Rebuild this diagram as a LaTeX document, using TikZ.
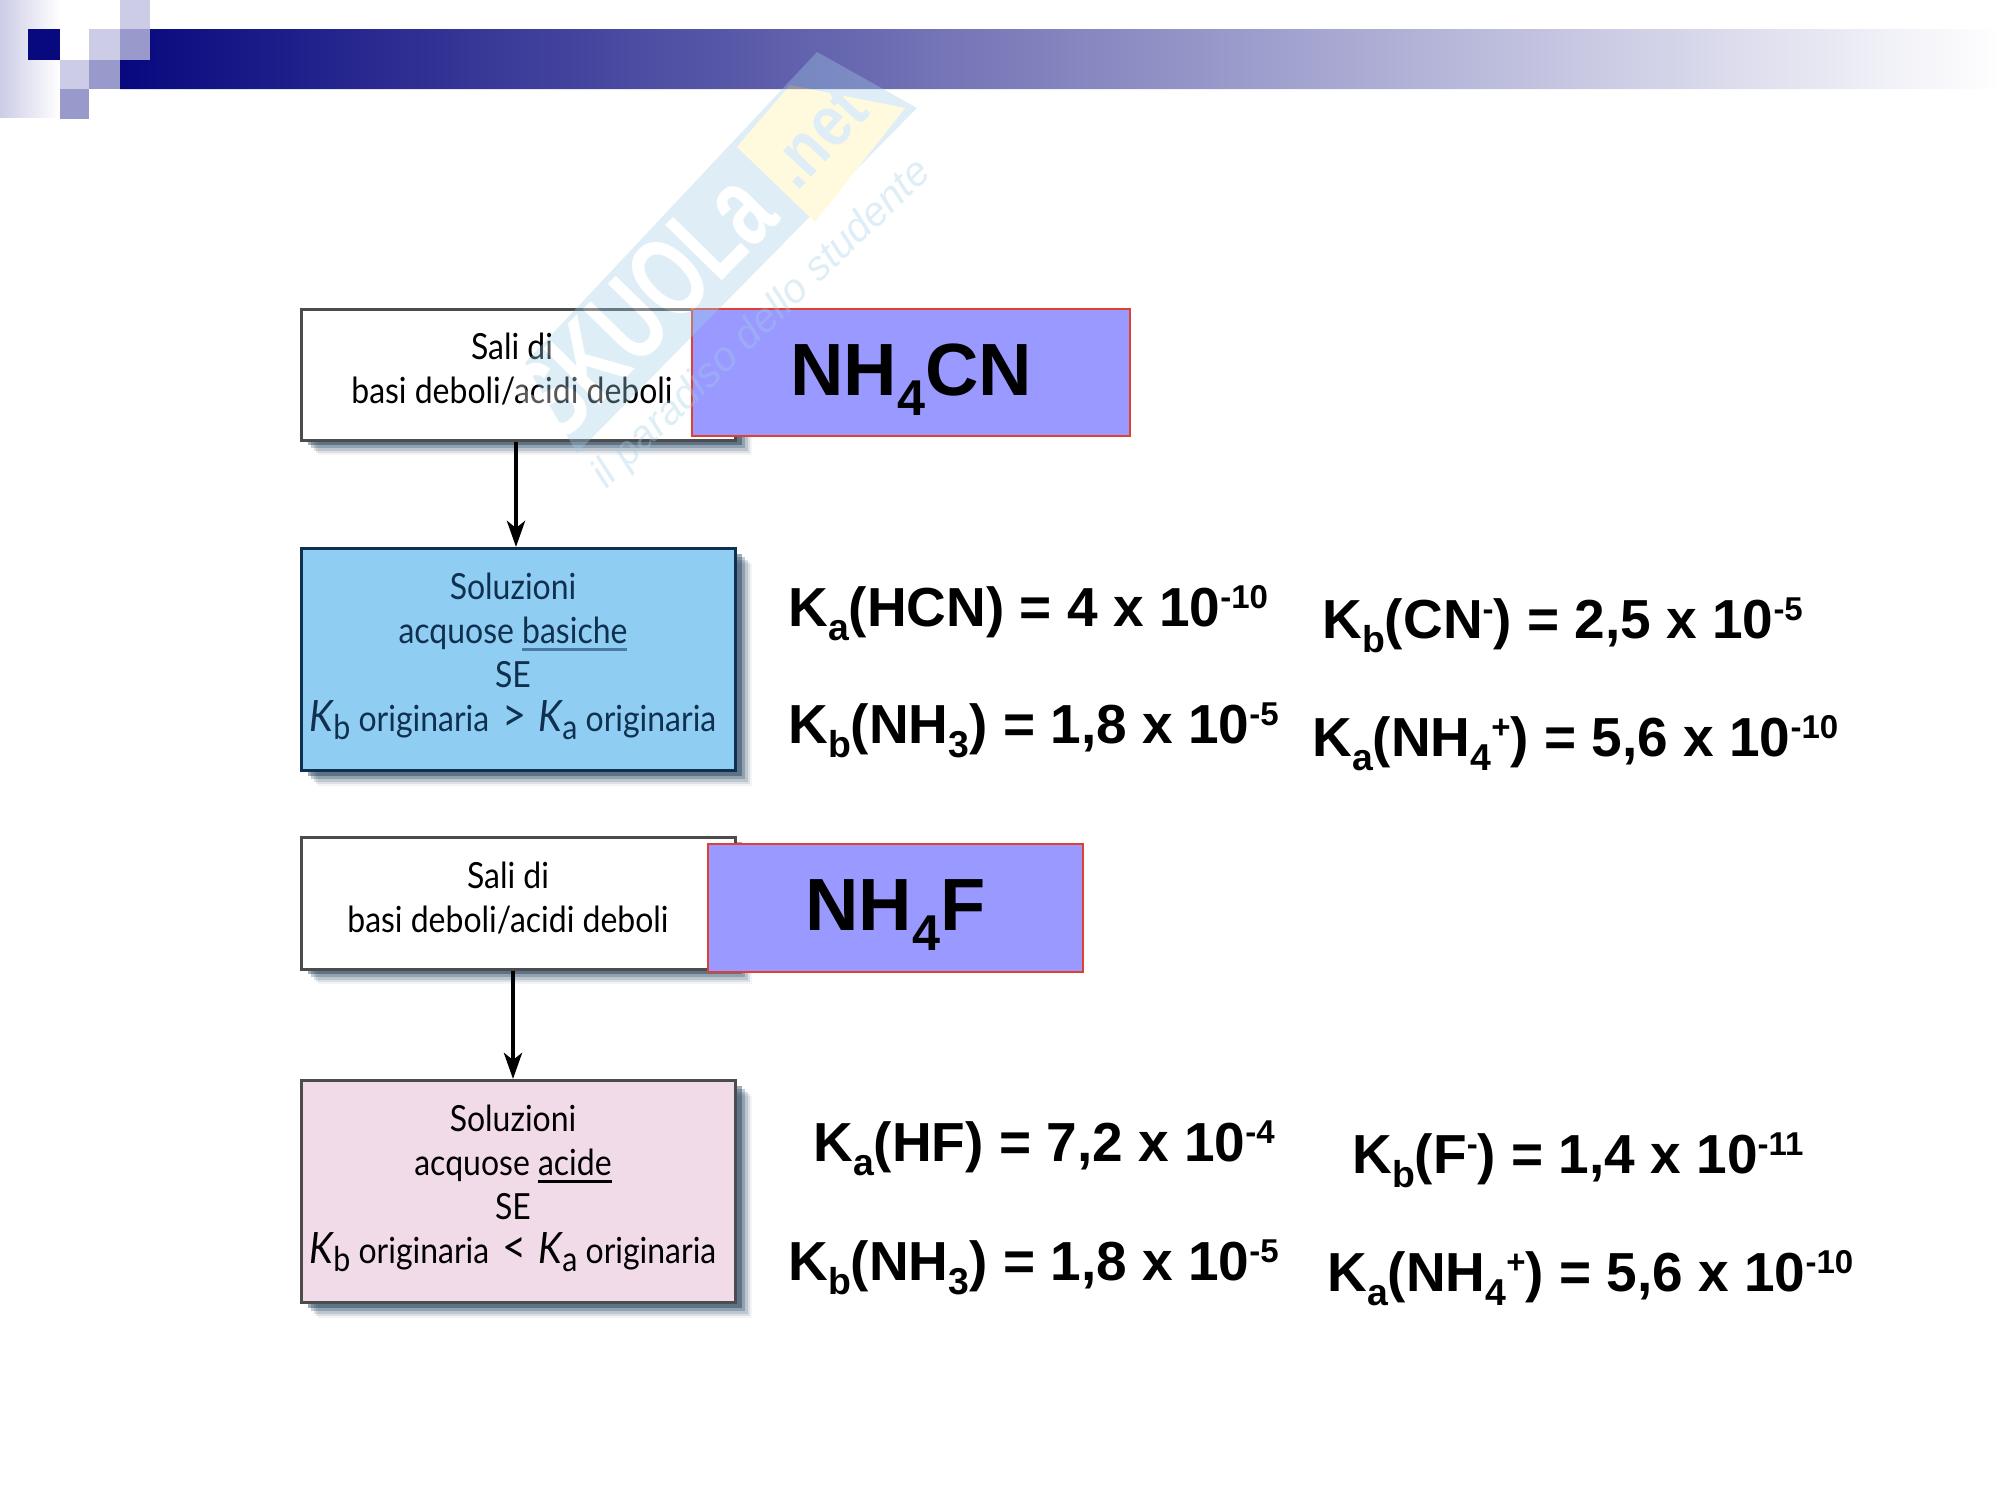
\documentclass[tikz,border=0pt]{standalone}
\usepackage{fontspec}
\usetikzlibrary{positioning,arrows.meta,shadows,shadings}
\setmainfont{Liberation Sans}
\newfontfamily\boxfont[FakeStretch=0.888]{Lato}
\newfontfamily\stampfont[FakeStretch=0.68]{Liberation Sans}
\newfontfamily\netfont[FakeStretch=0.85]{Liberation Sans}
\newcommand{\lowtxt}[1]{\raisebox{-.27em}{\scalebox{.68}{#1}}}
\newcommand{\hightxt}[1]{\raisebox{.32em}{\scalebox{.6}{#1}}}
\newcommand{\boxk}[1]{\textit{\scalebox{1.2}{K}}\raisebox{-.22em}{\scalebox{.95}{#1}}}
\newcommand{\ulword}[2]{\sbox0{#2}\rlap{\textcolor{#1}{\rule[-7pt]{\wd0}{2.5pt}}}\usebox0}
\definecolor{navy}{HTML}{08087F}
\definecolor{lilac}{HTML}{CCCCE6}
\definecolor{mauve}{HTML}{9999CC}
\definecolor{skyfill}{HTML}{8FCDF3}
\definecolor{skytext}{HTML}{10304F}
\definecolor{skyline}{HTML}{4A7BA6}
\definecolor{pinkfill}{HTML}{F2DBE9}
\definecolor{saltfill}{HTML}{9999FF}
\definecolor{saltline}{HTML}{E0402F}
\definecolor{stampblue}{HTML}{A3CFE6}
\definecolor{stampyellow}{HTML}{FFF2A0}
\begin{document}
\begin{tikzpicture}[x=1pt, y=-1pt, node distance=105.5pt, thick,
    blockbox/.style = {draw=#1, line width=3pt, minimum width=434pt, inner sep=0pt,
        general shadow={shadow xshift=17pt, shadow yshift=-15pt, fill=skytext, opacity=.05},
        general shadow={shadow xshift=15pt, shadow yshift=-13pt, fill=skytext, opacity=.1},
        general shadow={shadow xshift=13pt, shadow yshift=-11pt, fill=skytext, opacity=.15},
        general shadow={shadow xshift=10pt, shadow yshift=-8pt, fill=skytext, opacity=.25},
        general shadow={shadow xshift=7pt, shadow yshift=-5pt, fill=skytext, opacity=.4}},
    blocktext/.style = {inner sep=0pt, align=center, font=\boxfont\fontsize{36}{44}\selectfont},
    saltbox/.style = {draw=saltline, line width=2.5pt, fill=saltfill, inner sep=0pt},
    salttext/.style = {inner sep=0pt, font=\bfseries\fontsize{74}{74}\selectfont},
    formula/.style = {anchor=base west, inner sep=0pt, font=\bfseries\fontsize{55}{55}\selectfont},
    flow/.style = {-{Stealth[length=26pt, width=18pt, inset=7pt]}, line width=4.5pt}]
    \useasboundingbox (0,0) rectangle (2000,1500);

    \fill[left color=lilac, right color=white] (0,0) rectangle (60,117);
    \fill[navy] (28,29) rectangle (60,60);
    \fill[lilac] (120,0) rectangle (150,29);
    \fill[lilac] (89,29) rectangle (120,60);
    \fill[mauve] (120,29) rectangle (150,60);
    \fill[lilac] (60,60) rectangle (89,89);
    \fill[mauve] (89,60) rectangle (120,89);
    \fill[mauve] (60,89) rectangle (89,119);
    \shade[left color=navy, right color=white] (150,29) -- (2000,29) -- (2000,89) -- (120,89) -- (120,60) -- (150,60) -- cycle;

    \node[blockbox=black!70, fill=white, minimum height=131pt] (sali1) at (518,374.5) {};
    \node[blockbox=skytext, fill=skyfill, minimum height=222pt] (sol1) [below=of sali1] {};
    \node[blockbox=black!70, fill=white, minimum height=132pt] (sali2) at (518,903) {};
    \node[blockbox=black!70, fill=pinkfill, minimum height=222pt] (sol2) [below=108.5pt of sali2] {};

    \node[blocktext] (salitext1) at ([xshift=-6pt, yshift=5pt]sali1) {Sali di\\basi deboli/acidi deboli};
    \node[blocktext, text=skytext] (soltext1) at ([xshift=-5pt, yshift=3pt]sol1) {Soluzioni\\acquose \ulword{skyline}{basiche}\\SE\\\boxk{b} originaria\hspace{.15em} \scalebox{1.3}{>}\hspace{.1em} \boxk{a} originaria};
    \node[blocktext] (salitext2) at ([xshift=-10pt, yshift=5pt]sali2) {Sali di\\basi deboli/acidi deboli};
    \node[blocktext] (soltext2) at ([xshift=-5pt, yshift=3pt]sol2) {Soluzioni\\acquose \ulword{black}{acide}\\SE\\\boxk{b} originaria\hspace{.15em} \scalebox{1.3}{<}\hspace{.1em} \boxk{a} originaria};

    \draw[flow] ([xshift=-2pt]sali1.south) -- ([xshift=-2pt]sali1.south |- sol1.north);
    \draw[flow] ([xshift=-5pt]sali2.south) -- ([xshift=-5pt]sali2.south |- sol2.north);

    \node[saltbox, minimum width=438pt, minimum height=127pt] (salt1) at (911,372.5) {};
    \node[saltbox, minimum width=375pt, minimum height=128pt] (salt2) at (895.5,908) {};
    \node[salttext] (saltname1) at ([yshift=-7pt]salt1) {NH\lowtxt{4}CN};
    \node[salttext] (saltname2) at ([yshift=-7pt]salt2) {NH\lowtxt{4}F};

    \node[formula] (kahcn) at (788,626) {K\lowtxt{a}(HCN) = 4 x 10\hightxt{-10}};
    \node[formula] (kbcn) at (1322,638) {K\lowtxt{b}(CN\hightxt{-}) = 2,5 x 10\hightxt{-5}};
    \node[formula] (kbnh1) at (788,743) {K\lowtxt{b}(NH\lowtxt{3}) = 1,8 x 10\hightxt{-5}};
    \node[formula] (kanh1) at (1312,756) {K\lowtxt{a}(NH\lowtxt{4}\hightxt{+}) = 5,6 x 10\hightxt{-10}};
    \node[formula] (kahf) at (813,1161) {K\lowtxt{a}(HF) = 7,2 x 10\hightxt{-4}};
    \node[formula] (kbf) at (1352,1173) {K\lowtxt{b}(F\hightxt{-}) = 1,4 x 10\hightxt{-11}};
    \node[formula] (kbnh2) at (788,1280) {K\lowtxt{b}(NH\lowtxt{3}) = 1,8 x 10\hightxt{-5}};
    \node[formula] (kanh2) at (1327,1291) {K\lowtxt{a}(NH\lowtxt{4}\hightxt{+}) = 5,6 x 10\hightxt{-10}};

    \begin{scope}[transparency group, opacity=.35]
        \fill[stampblue] (817,52) -- (917,108) -- (577,453) -- (525,363) -- cycle;
        \fill[stampyellow] (737,147) -- (790,85) -- (905,108) -- (815,222) -- cycle;
        \node[anchor=base west, rotate=45.6, inner sep=0pt, text=white, font=\stampfont\bfseries\fontsize{115}{115}\selectfont] (brand) at (560,446) {SKUOLa};
        \node[anchor=base west, rotate=47, inner sep=0pt, text=stampblue, font=\netfont\bfseries\fontsize{72}{72}\selectfont] (brandnet) at (797,193) {.net};
        \node[anchor=base west, rotate=44, inner sep=0pt, text=stampblue, font=\itshape\fontsize{41}{41}\selectfont] (motto) at (606,490) {il paradiso dello studente};
    \end{scope}
\end{tikzpicture}
\end{document}
